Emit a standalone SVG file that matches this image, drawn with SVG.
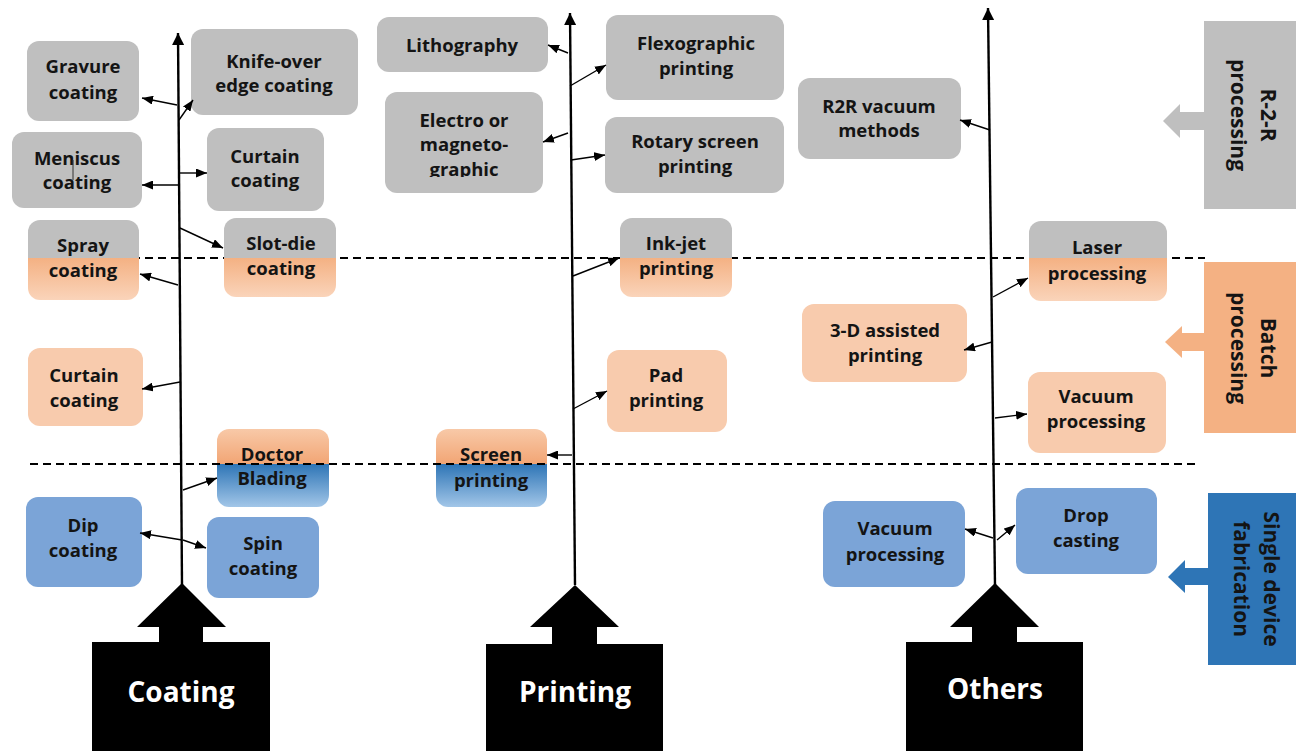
<svg xmlns="http://www.w3.org/2000/svg" width="1296" height="751" viewBox="0 0 1296 751">
<style>
.t{font-family:"Open Sans","Noto Sans","Liberation Sans",sans-serif;font-weight:700;font-size:18.5px;fill:#141414;text-anchor:middle}
.big{font-family:"Open Sans","Noto Sans","Liberation Sans",sans-serif;font-weight:700;font-size:28px;fill:#fff;text-anchor:middle}
.side{font-family:"Open Sans","Noto Sans","Liberation Sans",sans-serif;font-weight:700;font-size:21px;fill:#141414;text-anchor:middle}
.gray{fill:#bfbfbf}
.org{fill:#f8cbad}
.blu{fill:#7ba4d7}
.ax{stroke:#000;stroke-width:2.4;fill:none}
.c{stroke:#000;stroke-width:1.4;fill:none;marker-end:url(#ah)}
.dash{stroke:#000;stroke-width:2;stroke-dasharray:8 5;fill:none}
</style>
<defs>
<marker id="ah" markerUnits="userSpaceOnUse" markerWidth="11" markerHeight="9" refX="11" refY="4.5" orient="auto"><path d="M0,0 L11,4.5 L0,9 z" fill="#000"/></marker>
<marker id="axh" markerUnits="userSpaceOnUse" markerWidth="12" markerHeight="12" refX="12" refY="6" orient="auto"><path d="M0,0 L12,6 L0,12 z" fill="#000"/></marker>
<linearGradient id="gSpray" x1="0" y1="0" x2="0" y2="1"><stop offset="0" stop-color="#bfbfbf"/><stop offset="0.475" stop-color="#bfbfbf"/><stop offset="0.475" stop-color="#f4b183"/><stop offset="1" stop-color="#fad4ba"/></linearGradient>
<linearGradient id="gSlot" x1="0" y1="0" x2="0" y2="1"><stop offset="0" stop-color="#bfbfbf"/><stop offset="0.506" stop-color="#bfbfbf"/><stop offset="0.506" stop-color="#f4b183"/><stop offset="1" stop-color="#fad4ba"/></linearGradient>
<linearGradient id="gLaser" x1="0" y1="0" x2="0" y2="1"><stop offset="0" stop-color="#bfbfbf"/><stop offset="0.4625" stop-color="#bfbfbf"/><stop offset="0.4625" stop-color="#f4b183"/><stop offset="1" stop-color="#fad4ba"/></linearGradient>
<linearGradient id="gOB" x1="0" y1="0" x2="0" y2="1"><stop offset="0" stop-color="#f8c9a8"/><stop offset="0.449" stop-color="#f2a574"/><stop offset="0.449" stop-color="#2e75b6"/><stop offset="1" stop-color="#a2c6e8"/></linearGradient>
<clipPath id="clipE"><rect x="380" y="90" width="170" height="87"/></clipPath>
</defs>
<rect width="1296" height="751" fill="#fff"/>

<!-- first dashed line (behind nodes) -->
<line class="dash" x1="28" y1="258" x2="1205" y2="258"/>

<!-- right side labels -->
<g id="r2r-label">
<rect x="1204" y="21" width="92" height="188" class="gray"/>
<path d="M1204,112 L1180,112 L1180,104 L1163,121 L1180,138 L1180,130 L1204,130 z" class="gray"/>
<text class="side" transform="translate(1261,115) rotate(90)">R-2-R</text>
<text class="side" transform="translate(1231,115) rotate(90)">processing</text>
</g>
<g id="batch-label">
<rect x="1204" y="262" width="92" height="171" fill="#f4b183"/>
<path d="M1204,333 L1182,333 L1182,326 L1165,342 L1182,358 L1182,351 L1204,351 z" fill="#f4b183"/>
<text class="side" transform="translate(1261,348) rotate(90)">Batch</text>
<text class="side" transform="translate(1231,348) rotate(90)">processing</text>
</g>
<g id="single-label">
<rect x="1208" y="493" width="88" height="172" fill="#2e75b6"/>
<path d="M1208,568 L1185,568 L1185,560 L1168,577 L1185,593 L1185,585 L1208,585 z" fill="#2e75b6"/>
<text class="side" transform="translate(1264,579) rotate(90)">Single device</text>
<text class="side" transform="translate(1234,579) rotate(90)">fabrication</text>
</g>

<!-- coating nodes -->
<g id="gravure"><rect x="27" y="41" width="112" height="80" rx="12" class="gray"/><text class="t" x="83" y="73">Gravure</text><text class="t" x="83" y="99">coating</text></g>
<g id="knife"><rect x="191" y="29" width="167" height="86" rx="12" class="gray"/><text class="t" x="274" y="68">Knife-over</text><text class="t" x="274" y="92">edge coating</text></g>
<g id="meniscus"><rect x="12" y="132" width="130" height="76" rx="12" class="gray"/><text class="t" x="77" y="165">Meniscus</text><text class="t" x="77" y="189">coating</text><line x1="73" y1="160" x2="73" y2="180" stroke="#333" stroke-width="1"/></g>
<g id="curtain-gray"><rect x="207" y="128" width="117" height="83" rx="12" class="gray"/><text class="t" x="265" y="163">Curtain</text><text class="t" x="265" y="187">coating</text></g>
<g id="spray"><rect x="28" y="220" width="111" height="80" rx="12" fill="url(#gSpray)"/><text class="t" x="83" y="252">Spray</text><text class="t" x="83" y="277">coating</text></g>
<g id="slotdie"><rect x="224" y="218" width="112" height="79" rx="12" fill="url(#gSlot)"/><text class="t" x="281" y="250">Slot-die</text><text class="t" x="281" y="275">coating</text></g>
<g id="curtain-orange"><rect x="28" y="348" width="115" height="78" rx="12" class="org"/><text class="t" x="84" y="382">Curtain</text><text class="t" x="84" y="407">coating</text></g>
<g id="doctor"><rect x="217" y="429" width="112" height="78" rx="12" fill="url(#gOB)"/><text class="t" x="272" y="461">Doctor</text><text class="t" x="272" y="485">Blading</text></g>
<g id="dip"><rect x="26" y="497" width="116" height="90" rx="12" class="blu"/><text class="t" x="83" y="532">Dip</text><text class="t" x="83" y="557">coating</text></g>
<g id="spin"><rect x="207" y="517" width="112" height="81" rx="12" class="blu"/><text class="t" x="263" y="550">Spin</text><text class="t" x="263" y="575">coating</text></g>

<!-- printing nodes -->
<g id="litho"><rect x="377" y="17" width="171" height="55" rx="12" class="gray"/><text class="t" x="462" y="52">Lithography</text></g>
<g id="flexo"><rect x="606" y="15" width="178" height="85" rx="12" class="gray"/><text class="t" x="696" y="50">Flexographic</text><text class="t" x="696" y="75">printing</text></g>
<g id="electro"><rect x="385" y="92" width="158" height="101" rx="12" class="gray"/><g clip-path="url(#clipE)"><text class="t" x="464" y="127">Electro or</text><text class="t" x="464" y="151">magneto-</text><text class="t" x="464" y="176">graphic</text></g></g>
<g id="rotary"><rect x="605" y="117" width="179" height="76" rx="12" class="gray"/><text class="t" x="695" y="148">Rotary screen</text><text class="t" x="695" y="173">printing</text></g>
<g id="inkjet"><rect x="620" y="218" width="112" height="79" rx="12" fill="url(#gSlot)"/><text class="t" x="676" y="250">Ink-jet</text><text class="t" x="676" y="275">printing</text></g>
<g id="pad"><rect x="607" y="350" width="120" height="82" rx="12" class="org"/><text class="t" x="666" y="382">Pad</text><text class="t" x="666" y="407">printing</text></g>
<g id="screen"><rect x="436" y="429" width="111" height="78" rx="12" fill="url(#gOB)"/><text class="t" x="491" y="461">Screen</text><text class="t" x="491" y="487">printing</text></g>

<!-- others nodes -->
<g id="r2r"><rect x="798" y="78" width="163" height="81" rx="12" class="gray"/><text class="t" x="879" y="113">R2R vacuum</text><text class="t" x="879" y="137">methods</text></g>
<g id="laser"><rect x="1029" y="221" width="138" height="80" rx="12" fill="url(#gLaser)"/><text class="t" x="1097" y="254">Laser</text><text class="t" x="1097" y="280">processing</text></g>
<g id="print3d"><rect x="802" y="304" width="165" height="78" rx="12" class="org"/><text class="t" x="885" y="337">3-D assisted</text><text class="t" x="885" y="362">printing</text></g>
<g id="vacuum-orange"><rect x="1028" y="372" width="138" height="81" rx="12" class="org"/><text class="t" x="1096" y="403">Vacuum</text><text class="t" x="1096" y="428">processing</text></g>
<g id="vacuum-blue"><rect x="823" y="501" width="142" height="86" rx="12" class="blu"/><text class="t" x="895" y="535">Vacuum</text><text class="t" x="895" y="561">processing</text></g>
<g id="drop"><rect x="1016" y="488" width="141" height="86" rx="12" class="blu"/><text class="t" x="1086" y="522">Drop</text><text class="t" x="1086" y="547">casting</text></g>

<!-- second dashed line (over nodes) -->
<line class="dash" x1="30" y1="464" x2="1196" y2="464"/>

<!-- connectors -->
<g id="connectors">
<line class="ax" x1="182" y1="585" x2="178" y2="33" marker-end="url(#axh)"/>
<line class="ax" x1="575" y1="585" x2="570" y2="13" marker-end="url(#axh)"/>
<line class="ax" x1="995" y1="585" x2="988" y2="8" marker-end="url(#axh)"/>
<line class="c" x1="177" y1="105" x2="142" y2="98"/>
<line class="c" x1="179" y1="120" x2="193" y2="100"/>
<line class="c" x1="178" y1="185" x2="142" y2="185"/>
<line class="c" x1="179" y1="173" x2="207" y2="173"/>
<line class="c" x1="180" y1="228" x2="223" y2="248"/>
<line class="c" x1="178" y1="285" x2="140" y2="274"/>
<line class="c" x1="180" y1="382" x2="142" y2="389"/>
<line class="c" x1="183" y1="490" x2="217" y2="478"/>
<line class="c" x1="182" y1="540" x2="140" y2="533"/>
<line class="c" x1="183" y1="540" x2="206" y2="548"/>
<line class="c" x1="568" y1="53" x2="548" y2="45"/>
<line class="c" x1="570" y1="86" x2="606" y2="65"/>
<line class="c" x1="568" y1="133" x2="543" y2="142"/>
<line class="c" x1="571" y1="160" x2="605" y2="155"/>
<line class="c" x1="573" y1="276" x2="619" y2="258"/>
<line class="c" x1="573" y1="409" x2="607" y2="391"/>
<line class="c" x1="572" y1="455" x2="547" y2="455"/>
<line class="c" x1="990" y1="130" x2="960" y2="120"/>
<line class="c" x1="993" y1="297" x2="1028" y2="278"/>
<line class="c" x1="992" y1="342" x2="964" y2="350"/>
<line class="c" x1="995" y1="418" x2="1027" y2="414"/>
<line class="c" x1="993" y1="538" x2="965" y2="529"/>
<line class="c" x1="997" y1="540" x2="1015" y2="525"/>
</g>

<!-- bottom category arrows -->
<g id="coating"><path d="M182,583 L226,627 L203,627 L203,642 L270,642 L270,751 L92,751 L92,642 L159,642 L159,627 L137,627 z" fill="#000"/><text class="big" x="181" y="702">Coating</text></g>
<g id="printing"><path d="M575,585 L619,627 L597,627 L597,644 L663,644 L663,751 L486,751 L486,644 L552,644 L552,627 L530,627 z" fill="#000"/><text class="big" x="575" y="702">Printing</text></g>
<g id="others"><path d="M995,583 L1039,627 L1017,627 L1017,642 L1083,642 L1083,751 L906,751 L906,642 L972,642 L972,627 L950,627 z" fill="#000"/><text class="big" x="995" y="699">Others</text></g>
</svg>
